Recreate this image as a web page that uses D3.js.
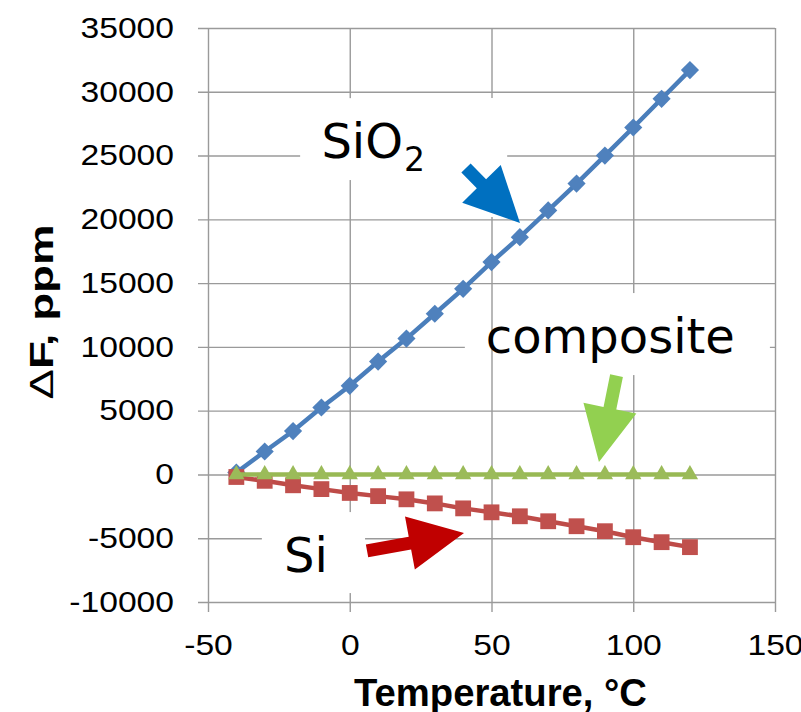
<!DOCTYPE html>
<html>
<head>
<meta charset="utf-8">
<script src="https://cdn.jsdelivr.net/npm/d3@7"></script>
<style>
  body { margin: 0; background: #fff; }
  .tick text { font-family: "Liberation Sans", Arial, sans-serif; fill: #000; }
</style>
</head>
<body>
<div id="chart-area"></div>
<script>
// data
var temps = [-40, -30, -20, -10, 0, 10, 20, 30, 40, 50, 60, 70, 80, 90, 100, 110, 120];
var sio2 = [150, 1800, 3400, 5250, 6950, 8850, 10650, 12600, 14550, 16650, 18600, 20700, 22800, 25000, 27200, 29450, 31700];
var si = [-200, -500, -850, -1150, -1450, -1700, -1950, -2270, -2660, -2970, -3280, -3670, -4060, -4450, -4920, -5310, -5700];
var composite = [0, 0, 0, 0, 0, 0, 0, 0, 0, 0, 0, 0, 0, 0, 0, 0, 0];

var xTicks = [-50, 0, 50, 100, 150];
var yTicks = [-10000, -5000, 0, 5000, 10000, 15000, 20000, 25000, 30000, 35000];

var margin = { left: 208, right: 26, top: 28, bottom: 110 };
var width = 801 - margin.left - margin.right,
    height = 712 - margin.top - margin.bottom;

var svg = d3.select("#chart-area")
    .append("svg")
        .attr("width", 801)
        .attr("height", 712);

var g = svg.append("g")
    .attr("transform", "translate(" + margin.left + ", " + margin.top + ")");

var x = d3.scaleLinear().domain([-50, 150]).range([0, width]);
var y = d3.scaleLinear().domain([-10000, 35000]).range([height, 0]);

var gridColor = "#9a9a9a";
var plain = function(d){ return String(d); };  // hyphen minus, no thousands separator

// gridlines (with the little outside tick marks)
var yGrid = g.append("g")
    .call(d3.axisLeft(y).tickValues(yTicks).tickSize(-width).tickFormat(""));
yGrid.select(".domain").remove();
yGrid.selectAll("line").attr("x1", -10).attr("stroke", gridColor).attr("stroke-width", 1.4);

var xGrid = g.append("g")
    .attr("transform", "translate(0, " + height + ")")
    .call(d3.axisBottom(x).tickValues(xTicks).tickSize(-height).tickFormat(""));
xGrid.select(".domain").remove();
xGrid.selectAll("line").attr("y1", 10).attr("stroke", gridColor).attr("stroke-width", 1.4);

// tick labels
var yAxis = g.append("g")
    .call(d3.axisLeft(y).tickValues(yTicks).tickSize(0).tickPadding(34).tickFormat(plain));
yAxis.select(".domain").remove();
yAxis.selectAll("text")
    .attr("font-size", "29px")
    .attr("x", null)
    .attr("transform", "translate(-34,0) scale(1.16,1)");

var xAxis = g.append("g")
    .attr("transform", "translate(0, " + height + ")")
    .call(d3.axisBottom(x).tickValues(xTicks).tickSize(0).tickPadding(32).tickFormat(plain));
xAxis.select(".domain").remove();
xAxis.selectAll("text")
    .attr("font-size", "29px")
    .attr("transform", "scale(1.16,1)");

// axis titles
g.append("text")
    .attr("x", width / 2 + 9)
    .attr("y", height + 104)
    .attr("text-anchor", "middle")
    .attr("font-family", "Liberation Sans, Arial, sans-serif")
    .attr("font-weight", "bold")
    .attr("font-size", "39px")
    .attr("textLength", 293)
    .attr("lengthAdjust", "spacingAndGlyphs")
    .text("Temperature, °C");

var yTitle = g.append("text")
    .attr("transform", "translate(" + (53 - margin.left) + ", " + (312 - margin.top) + ") rotate(-90)")
    .attr("text-anchor", "middle")
    .attr("font-family", "Liberation Sans, Arial, sans-serif")
    .attr("font-weight", "bold")
    .attr("font-size", "34px")
    .attr("textLength", 175)
    .attr("lengthAdjust", "spacingAndGlyphs");
yTitle.append("tspan").attr("font-weight", "normal").text("Δ");
yTitle.append("tspan").text("F, ppm");

// white boxes behind the callouts (data units)
var boxes = [
    [-17.5, 55.5, 29500, 23080],
    [42.4, 55.5, 29500, 20180],
    [53, 148.2, 14220, 7790],
    [40.6, 53, 10220, 9910],
    [-31, 5.4, -2950, -9300]
];
g.selectAll("rect.box")
    .data(boxes)
    .enter()
    .append("rect")
        .attr("class", "box")
        .attr("x", function(d){ return x(d[0]); })
        .attr("y", function(d){ return y(d[2]); })
        .attr("width", function(d){ return x(d[1]) - x(d[0]); })
        .attr("height", function(d){ return y(d[3]) - y(d[2]); })
        .attr("fill", "#fff");

// series
var series = [
    { values: sio2, line: "#4a7ebb", fill: "#4f81bd", shape: "diamond" },
    { values: si, line: "#be4b48", fill: "#c0504d", shape: "square" },
    { values: composite, line: "#98b954", fill: "#9bbb59", shape: "triangle" }
];

var line = d3.line()
    .x(function(d){ return x(d[0]); })
    .y(function(d){ return y(d[1]); });

series.forEach(function(s){
    var pts = temps.map(function(t, i){ return [t, s.values[i]]; });

    g.append("path")
        .datum(pts)
        .attr("d", line)
        .attr("fill", "none")
        .attr("stroke", s.line)
        .attr("stroke-width", 4.5);

    var sym;
    if (s.shape == "diamond") sym = d3.symbol().type(d3.symbolSquare).size(165);
    else if (s.shape == "square") sym = d3.symbol().type(d3.symbolSquare).size(250);
    else sym = d3.symbol().type(d3.symbolTriangle).size(115);

    g.selectAll(null)
        .data(pts)
        .enter()
        .append("path")
            .attr("d", sym)
            .attr("transform", function(d){
                return "translate(" + x(d[0]) + "," + y(d[1]) + ")" +
                    (s.shape == "diamond" ? " rotate(45)" : "");
            })
            .attr("fill", s.fill);
});

// callout arrows: start and tip in data units
var arrows = [
    { from: [41.0, 24020], to: [60.05, 19710], color: "#0070c0" },
    { from: [94.1, 7750], to: [87.9, 970], color: "#92d050" },
    { from: [6.1, -6000], to: [40.3, -4590], color: "#c00000" }
];

arrows.forEach(function(a){
    var x0 = x(a.from[0]), y0 = y(a.from[1]),
        x1 = x(a.to[0]), y1 = y(a.to[1]);
    var len = Math.sqrt((x1 - x0) * (x1 - x0) + (y1 - y0) * (y1 - y0));
    var ang = Math.atan2(y1 - y0, x1 - x0) * 180 / Math.PI;
    var head = 55, hw = 27, sw = 6.5;
    var pts = [[0, -sw], [len - head, -sw], [len - head, -hw], [len, 0],
               [len - head, hw], [len - head, sw], [0, sw]];
    g.append("polygon")
        .attr("points", pts.map(function(p){ return p.join(","); }).join(" "))
        .attr("transform", "translate(" + x0 + "," + y0 + ") rotate(" + ang + ")")
        .attr("fill", a.color);
});

// labels
var labelFont = "DejaVu Sans, Verdana, sans-serif";

var sioLabel = g.append("text")
    .attr("x", x(-10))
    .attr("y", y(24800))
    .attr("font-family", labelFont)
    .attr("font-size", "48px")
    .attr("fill", "#000");
sioLabel.append("tspan").text("SiO");
sioLabel.append("tspan")
    .attr("font-size", "33px")
    .attr("dy", 13)
    .attr("dx", 1)
    .text("2");

g.append("text")
    .attr("x", x(48))
    .attr("y", y(9500))
    .attr("font-family", labelFont)
    .attr("font-size", "48px")
    .text("composite");

g.append("text")
    .attr("x", x(-23.2))
    .attr("y", y(-7650))
    .attr("font-family", labelFont)
    .attr("font-size", "48px")
    .text("Si");
</script>
</body>
</html>
